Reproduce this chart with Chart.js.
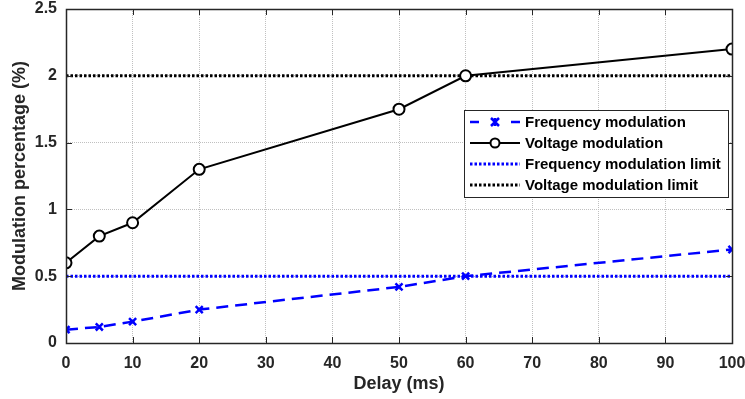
<!DOCTYPE html>
<html><head><meta charset="utf-8">
<script src="https://cdn.jsdelivr.net/npm/chart.js@4"></script>
<style>html,body{margin:0;padding:0;background:#fff;}#wrap{width:745px;height:399px;}</style>
</head><body><div id="wrap"><canvas id="c" width="745" height="399"></canvas></div>
<script>
const delays = [0, 5, 10, 20, 50, 60, 100];
const freqMod = [0.1, 0.12, 0.16, 0.25, 0.42, 0.5, 0.7];
const voltMod = [0.6, 0.8, 0.9, 1.3, 1.75, 2.0, 2.2];
const limitX = [0, 100];
const freqLimit = [0.5, 0.5];
const voltLimit = [2.0, 2.0];
const xTicks = [0,10,20,30,40,50,60,70,80,90,100];
const yTicks = [0,0.5,1,1.5,2,2.5];
const labels = ['Frequency modulation','Voltage modulation','Frequency modulation limit','Voltage modulation limit'];

const pts = (xs, ys) => xs.map((x,i)=>({x, y: ys[i]}));
const FONT = '"Liberation Sans", Arial, sans-serif';

const framePlugin = {
  id: 'frame',
  afterDatasetsDraw(chart) {
    const {ctx, chartArea: a, scales: {x, y}} = chart;
    ctx.save();
    ctx.strokeStyle = '#262626';
    ctx.lineWidth = 1;
    ctx.setLineDash([]);
    ctx.beginPath();
    xTicks.forEach(v => {
      const px = Math.round(x.getPixelForValue(v)) + 0.5;
      ctx.moveTo(px, a.bottom); ctx.lineTo(px, a.bottom - 6);
      ctx.moveTo(px, a.top); ctx.lineTo(px, a.top + 6);
    });
    yTicks.forEach(v => {
      const py = Math.round(y.getPixelForValue(v)) + 0.5;
      ctx.moveTo(a.left, py); ctx.lineTo(a.left + 6, py);
      ctx.moveTo(a.right, py); ctx.lineTo(a.right - 6, py);
    });
    ctx.stroke();
    ctx.lineWidth = 1.5;
    ctx.strokeRect(Math.round(a.left)+0.5, Math.round(a.top)+0.5, Math.round(a.right-a.left), Math.round(a.bottom-a.top));
    ctx.restore();
  },
  afterDraw(chart) {
    const {ctx} = chart;
    const bx = 464, by = 110, bw = 264, bh = 87;
    ctx.save();
    ctx.fillStyle = '#fff';
    ctx.fillRect(bx, by, bw, bh);
    ctx.strokeStyle = '#262626';
    ctx.lineWidth = 1;
    ctx.strokeRect(bx + 0.5, by + 0.5, bw, bh);
    const rows = [122, 143, 164, 185];
    const ds = chart.data.datasets;
    ds.forEach((d, i) => {
      const yy = rows[i];
      ctx.strokeStyle = d.borderColor;
      ctx.lineWidth = d.borderWidth;
      ctx.setLineDash(d.borderDash || []);
      ctx.beginPath();
      if (i === 0) {
        ctx.setLineDash([]);
        ctx.moveTo(470, yy); ctx.lineTo(479, yy);
        ctx.moveTo(511, yy); ctx.lineTo(520, yy);
      } else {
        ctx.moveTo(470, yy); ctx.lineTo(520, yy);
      }
      ctx.stroke();
      ctx.setLineDash([]);
      if (i === 0) {
        ctx.lineWidth = 2.5;
        ctx.beginPath();
        ctx.moveTo(491, yy-4); ctx.lineTo(499, yy+4);
        ctx.moveTo(499, yy-4); ctx.lineTo(491, yy+4);
        ctx.moveTo(495, yy-4); ctx.lineTo(495, yy+4);
        ctx.stroke();
      } else if (i === 1) {
        ctx.lineWidth = 2;
        ctx.fillStyle = '#fff';
        ctx.beginPath(); ctx.arc(495, yy, 4.5, 0, Math.PI*2); ctx.fill(); ctx.stroke();
      }
      ctx.fillStyle = '#000';
      ctx.font = 'bold 15px ' + FONT;
      ctx.textBaseline = 'middle';
      ctx.textAlign = 'left';
      ctx.fillText(labels[i], 525, yy + 1);
    });
    ctx.restore();
  }
};

new Chart(document.getElementById('c'), {
  type: 'scatter',
  data: {
    datasets: [
      { label: labels[0], data: pts(delays, freqMod), showLine: true, borderColor: '#0000ff', backgroundColor: '#0000ff',
        borderWidth: 2.5, borderDash: [12, 7], pointStyle: 'crossRot', pointRadius: 5, pointBorderWidth: 2.5, pointHoverRadius: 5, order: 1 },
      { label: labels[1], data: pts(delays, voltMod), showLine: true, borderColor: '#000000', backgroundColor: '#ffffff',
        borderWidth: 2, pointStyle: 'circle', pointRadius: 5.5, pointBorderWidth: 2, pointHoverRadius: 5.5, order: 0 },
      { label: labels[2], data: pts(limitX, freqLimit), showLine: true, borderColor: '#0000ff', backgroundColor: '#0000ff',
        borderWidth: 3, borderDash: [2.5, 2], pointRadius: 0, order: 2 },
      { label: labels[3], data: pts(limitX, voltLimit), showLine: true, borderColor: '#000000', backgroundColor: '#000000',
        borderWidth: 3, borderDash: [2.5, 2], pointRadius: 0, order: 3 }
    ]
  },
  options: {
    responsive: false,
    animation: false,
    layout: { padding: { left: 0, right: 13, top: 9, bottom: 0 } },
    plugins: { legend: { display: false }, tooltip: { enabled: false } },
    scales: {
      x: {
        type: 'linear', min: 0, max: 100,
        afterBuildTicks: s => { s.ticks = xTicks.map(v => ({value: v})); },
        afterFit: s => { s.height = 56; s.paddingLeft = 0; s.paddingRight = 0; },
        ticks: { color: '#262626', font: { family: FONT, size: 16, weight: 'bold' }, padding: 11, maxRotation: 0, callback: v => String(v) },
        grid: { color: '#c0c0c0', lineWidth: 1, drawTicks: false },
        border: { display: false, dash: [1, 1] },
        title: { display: true, text: 'Delay (ms)', color: '#262626', font: { family: FONT, size: 18, weight: 'bold' }, padding: { top: 0, bottom: 4 } }
      },
      y: {
        type: 'linear', min: 0, max: 2.5,
        afterBuildTicks: s => { s.ticks = yTicks.map(v => ({value: v})); },
        afterFit: s => { s.width = 66; s.paddingTop = 0; s.paddingBottom = 0; },
        ticks: { color: '#262626', font: { family: FONT, size: 16, weight: 'bold' }, padding: 9, callback: v => String(v) },
        grid: { color: '#c0c0c0', lineWidth: 1, drawTicks: false },
        border: { display: false, dash: [1, 1] },
        title: { display: true, text: 'Modulation percentage (%)', color: '#262626', font: { family: FONT, size: 18, weight: 'bold' }, padding: { top: 9, bottom: 0 } }
      }
    }
  },
  plugins: [framePlugin]
});
</script>
</body></html>
